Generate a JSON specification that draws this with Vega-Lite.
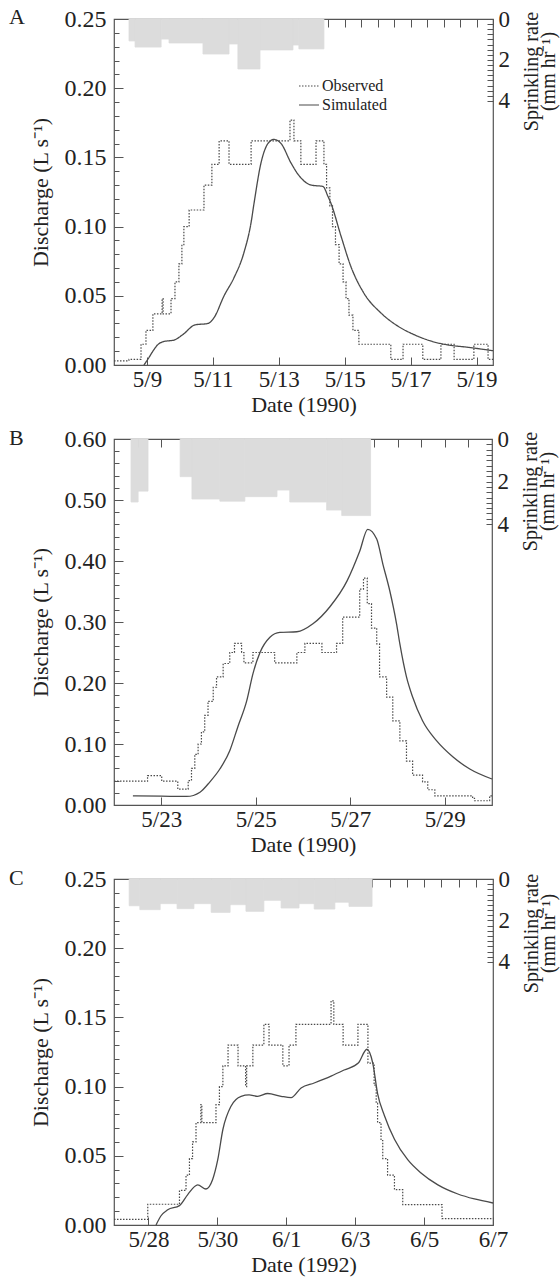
{
  "$schema": "https://vega.github.io/schema/vega-lite/v6.json",
  "padding": {"left": 8, "top": 5, "right": 8, "bottom": 2},
  "background": "white",
  "bounds": "flush",
  "spacing": 74,
  "resolve": {"scale": {"strokeDash": "independent"}, "legend": {"strokeDash": "independent"}},
  "config": {
    "font": "Liberation Serif",
    "view": {"stroke": "#555", "strokeWidth": 1.2},
    "axis": {"labelFont": "Liberation Serif", "titleFont": "Liberation Serif", "labelFontSize": 23, "titleFontSize": 22, "titleFontWeight": "normal", "labelColor": "#222", "titleColor": "#222", "tickColor": "#555", "domain": false, "grid": false, "labelFlush": false, "labelOverlap": false},
    "title": {"font": "Liberation Serif", "fontSize": 22, "fontWeight": "normal", "color": "#222"}
  },
  "vconcat": [
    {
      "width": 379, "height": 346,
      "title": {"text": "A", "anchor": "start", "frame": "group", "dx": -105, "dy": 26},
      "layer": [
        {
          "data": {"values": [
            {"start": 8.455, "end": 8.64, "rate": 1.07},
            {"start": 8.64, "end": 9.43, "rate": 1.37},
            {"start": 9.43, "end": 9.67, "rate": 0.98},
            {"start": 9.67, "end": 10.70, "rate": 1.17},
            {"start": 10.70, "end": 11.49, "rate": 1.71},
            {"start": 11.49, "end": 11.76, "rate": 1.22},
            {"start": 11.76, "end": 12.43, "rate": 2.44},
            {"start": 12.43, "end": 13.43, "rate": 1.51},
            {"start": 13.43, "end": 13.61, "rate": 1.27},
            {"start": 13.61, "end": 14.37, "rate": 1.46}
          ]},
          "mark": {"type": "rect", "fill": "#dcdcdc", "stroke": "#dcdcdc", "strokeWidth": 0.8},
          "encoding": {
            "x": {"field": "start", "type": "quantitative", "scale": {"domain": [8, 19.5], "nice": false, "zero": false},
              "axis": {"title": "Date (1990)", "values": [9, 11, 13, 15, 17, 19], "labelExpr": "'5/' + datum.value", "labelOverlap": false, "tickSize": -8, "labelPadding": 11, "titlePadding": 3}},
            "x2": {"field": "end"},
            "y": {"field": "rate", "type": "quantitative", "scale": {"domain": [0, 16.9], "reverse": true, "nice": false},
              "axis": {"orient": "right", "values": [0,0.25,0.5,0.75,1,1.25,1.5,1.75,2,2.25,2.5,2.75,3,3.25,3.5,3.75,4], "labelExpr": "datum.value % 2 == 0 ? datum.value : ''", "tickSize": -6, "labelPadding": 11, "title": ["Sprinkling rate", "(mm hr⁻¹)"], "titleFontSize": 20, "titleAngle": 270, "titleX": 38, "titleY": 52, "titleAlign": "center", "titleBaseline": "middle", "titleLineHeight": 17}},
            "y2": {"datum": 0}
          }
        },
        {
          "layer": [
            {
              "data": {"values": [
                {"day": 8.0, "q": 0.003}, {"day": 8.455, "q": 0.004}, {"day": 8.82, "q": 0.015}, {"day": 8.97, "q": 0.025},
                {"day": 9.18, "q": 0.037}, {"day": 9.46, "q": 0.048}, {"day": 9.49, "q": 0.037}, {"day": 9.73, "q": 0.048},
                {"day": 9.85, "q": 0.06}, {"day": 9.97, "q": 0.073}, {"day": 10.06, "q": 0.087}, {"day": 10.12, "q": 0.10},
                {"day": 10.28, "q": 0.112}, {"day": 10.73, "q": 0.13}, {"day": 10.97, "q": 0.145}, {"day": 11.19, "q": 0.162},
                {"day": 11.49, "q": 0.145}, {"day": 12.16, "q": 0.162}, {"day": 13.34, "q": 0.177}, {"day": 13.46, "q": 0.162},
                {"day": 13.67, "q": 0.145}, {"day": 14.13, "q": 0.162}, {"day": 14.37, "q": 0.145}, {"day": 14.45, "q": 0.128},
                {"day": 14.55, "q": 0.115}, {"day": 14.63, "q": 0.10}, {"day": 14.72, "q": 0.087}, {"day": 14.83, "q": 0.073},
                {"day": 14.95, "q": 0.06}, {"day": 15.04, "q": 0.048}, {"day": 15.13, "q": 0.036}, {"day": 15.25, "q": 0.025},
                {"day": 15.43, "q": 0.015}, {"day": 16.40, "q": 0.004}, {"day": 16.77, "q": 0.015}, {"day": 17.37, "q": 0.004},
                {"day": 17.92, "q": 0.015}, {"day": 18.32, "q": 0.004}, {"day": 18.92, "q": 0.015}, {"day": 19.35, "q": 0.004},
                {"day": 19.5, "q": 0.004}
              ]},
              "mark": {"type": "line", "interpolate": "step-after", "color": "#4a4a4a", "strokeWidth": 1.2},
              "encoding": {
                "x": {"field": "day", "type": "quantitative",
                  "axis": {"values": [8.5,9,9.5,10,10.5,11,11.5,12,12.5,13,13.5,14,14.5,15,15.5,16,16.5,17,17.5,18,18.5,19,19.5], "labels": false, "title": null, "tickSize": -8}},
                "y": {"field": "q", "type": "quantitative", "scale": {"domain": [0, 0.25], "nice": false},
                  "axis": {"orient": "left", "title": "Discharge (L s⁻¹)", "values": [0, 0.05, 0.1, 0.15, 0.2, 0.25], "format": ".2f", "labelFontSize": 24, "labelOverlap": false, "tickSize": -9, "labelPadding": 17, "titlePadding": 12}},
                "strokeDash": {"datum": "Observed", "type": "nominal", "scale": {"domain": ["Observed", "Simulated"], "range": [[1.5, 1.5], [1, 0]]},
                  "legend": {"orient": "none", "legendX": 184, "legendY": 56, "title": null, "symbolType": "stroke", "symbolSize": 400, "symbolStrokeColor": "#444", "symbolStrokeWidth": 1.2, "labelFont": "Liberation Serif", "labelFontSize": 16, "labelColor": "#222", "rowPadding": -10, "labelOffset": 2}}
              }
            },
            {
              "data": {"values": [
                {"day": 8.91, "q": 0.0}, {"day": 9.05, "q": 0.005}, {"day": 9.18, "q": 0.010}, {"day": 9.33, "q": 0.0147},
                {"day": 9.52, "q": 0.017}, {"day": 9.82, "q": 0.018}, {"day": 10.09, "q": 0.022}, {"day": 10.46, "q": 0.029},
                {"day": 10.85, "q": 0.030}, {"day": 11.03, "q": 0.034}, {"day": 11.34, "q": 0.050}, {"day": 11.64, "q": 0.063},
                {"day": 11.94, "q": 0.081}, {"day": 12.16, "q": 0.103}, {"day": 12.25, "q": 0.117}, {"day": 12.46, "q": 0.146},
                {"day": 12.67, "q": 0.16}, {"day": 12.85, "q": 0.163}, {"day": 13.07, "q": 0.16}, {"day": 13.37, "q": 0.146},
                {"day": 13.61, "q": 0.137}, {"day": 13.98, "q": 0.130}, {"day": 14.34, "q": 0.129}, {"day": 14.49, "q": 0.122},
                {"day": 14.58, "q": 0.117}, {"day": 14.89, "q": 0.093}, {"day": 15.19, "q": 0.071}, {"day": 15.58, "q": 0.052},
                {"day": 16.10, "q": 0.0376}, {"day": 16.62, "q": 0.028}, {"day": 17.10, "q": 0.022}, {"day": 17.62, "q": 0.0173},
                {"day": 18.13, "q": 0.0145}, {"day": 18.74, "q": 0.0128}, {"day": 19.5, "q": 0.0103}
              ]},
              "mark": {"type": "line", "interpolate": "monotone", "color": "#4a4a4a", "strokeWidth": 1.3},
              "encoding": {
                "x": {"field": "day", "type": "quantitative", "axis": null},
                "y": {"field": "q", "type": "quantitative",
                  "axis": {"orient": "left", "values": [0.01,0.02,0.03,0.04,0.06,0.07,0.08,0.09,0.11,0.12,0.13,0.14,0.16,0.17,0.18,0.19,0.21,0.22,0.23,0.24], "labels": false, "title": null, "tickSize": -5}},
                "strokeDash": {"datum": "Simulated", "type": "nominal"}
              }
            }
          ],
          "resolve": {"axis": {"x": "independent", "y": "independent"}}
        }
      ],
      "resolve": {"scale": {"y": "independent"}, "axis": {"y": "independent", "x": "independent"}}
    },
    {
      "width": 378, "height": 366,
      "title": {"text": "B", "anchor": "start", "frame": "group", "dx": -105, "dy": 27},
      "layer": [
        {
          "data": {"values": [
            {"start": 22.36, "end": 22.51, "rate": 2.96},
            {"start": 22.51, "end": 22.72, "rate": 2.45},
            {"start": 23.40, "end": 23.65, "rate": 1.77},
            {"start": 23.65, "end": 24.24, "rate": 2.82},
            {"start": 24.24, "end": 24.77, "rate": 2.92},
            {"start": 24.77, "end": 25.45, "rate": 2.71},
            {"start": 25.45, "end": 25.72, "rate": 2.4},
            {"start": 25.72, "end": 26.50, "rate": 2.96},
            {"start": 26.50, "end": 26.82, "rate": 3.34},
            {"start": 26.82, "end": 27.43, "rate": 3.6}
          ]},
          "mark": {"type": "rect", "fill": "#dcdcdc", "stroke": "#dcdcdc", "strokeWidth": 0.8},
          "encoding": {
            "x": {"field": "start", "type": "quantitative", "scale": {"domain": [22, 30], "nice": false, "zero": false},
              "axis": {"title": "Date (1990)", "values": [23, 25, 27, 29], "labelExpr": "'5/' + datum.value", "labelOverlap": false, "tickSize": -8, "labelPadding": 11, "titlePadding": 3}},
            "x2": {"field": "end"},
            "y": {"field": "rate", "type": "quantitative", "scale": {"domain": [0, 17.2], "reverse": true, "nice": false},
              "axis": {"orient": "right", "values": [0,0.25,0.5,0.75,1,1.25,1.5,1.75,2,2.25,2.5,2.75,3,3.25,3.5,3.75,4], "labelExpr": "datum.value % 2 == 0 ? datum.value : ''", "tickSize": -6, "labelPadding": 11, "title": ["Sprinkling rate", "(mm hr⁻¹)"], "titleFontSize": 20, "titleAngle": 270, "titleX": 38, "titleY": 52, "titleAlign": "center", "titleBaseline": "middle", "titleLineHeight": 17}},
            "y2": {"datum": 0}
          }
        },
        {
          "layer": [
            {
              "data": {"values": [
                {"day": 22.0, "q": 0.039}, {"day": 22.71, "q": 0.048}, {"day": 23.01, "q": 0.039}, {"day": 23.35, "q": 0.026},
                {"day": 23.57, "q": 0.04}, {"day": 23.64, "q": 0.06}, {"day": 23.71, "q": 0.083}, {"day": 23.78, "q": 0.10},
                {"day": 23.85, "q": 0.12}, {"day": 23.92, "q": 0.147}, {"day": 23.99, "q": 0.17}, {"day": 24.10, "q": 0.193},
                {"day": 24.17, "q": 0.21}, {"day": 24.31, "q": 0.232}, {"day": 24.45, "q": 0.25}, {"day": 24.55, "q": 0.265},
                {"day": 24.70, "q": 0.25}, {"day": 24.75, "q": 0.233}, {"day": 24.94, "q": 0.25}, {"day": 25.40, "q": 0.233},
                {"day": 25.87, "q": 0.25}, {"day": 26.04, "q": 0.265}, {"day": 26.40, "q": 0.25}, {"day": 26.71, "q": 0.265},
                {"day": 26.84, "q": 0.308}, {"day": 27.20, "q": 0.354}, {"day": 27.28, "q": 0.372}, {"day": 27.36, "q": 0.33},
                {"day": 27.45, "q": 0.29}, {"day": 27.56, "q": 0.264}, {"day": 27.62, "q": 0.21}, {"day": 27.77, "q": 0.177},
                {"day": 27.90, "q": 0.138}, {"day": 28.05, "q": 0.105}, {"day": 28.19, "q": 0.072}, {"day": 28.32, "q": 0.049},
                {"day": 28.53, "q": 0.038}, {"day": 28.64, "q": 0.025}, {"day": 28.79, "q": 0.015}, {"day": 29.59, "q": 0.011},
                {"day": 29.63, "q": 0.007}, {"day": 29.95, "q": 0.015}, {"day": 30.0, "q": 0.015}
              ]},
              "mark": {"type": "line", "interpolate": "step-after", "color": "#4a4a4a", "strokeWidth": 1.2, "strokeDash": [1.5, 1.5]},
              "encoding": {
                "x": {"field": "day", "type": "quantitative",
                  "axis": {"values": [22.5,23,23.5,24,24.5,25,25.5,26,26.5,27,27.5,28,28.5,29,29.5], "labels": false, "title": null, "tickSize": -8}},
                "y": {"field": "q", "type": "quantitative", "scale": {"domain": [0, 0.6], "nice": false},
                  "axis": {"orient": "left", "title": "Discharge (L s⁻¹)", "values": [0, 0.1, 0.2, 0.3, 0.4, 0.5, 0.6], "format": ".2f", "labelFontSize": 24, "labelOverlap": false, "tickSize": -9, "labelPadding": 17, "titlePadding": 12}}
              }
            },
            {
              "data": {"values": [
                {"day": 22.40, "q": 0.015}, {"day": 23.0, "q": 0.0145}, {"day": 23.54, "q": 0.014}, {"day": 23.82, "q": 0.021},
                {"day": 24.03, "q": 0.038}, {"day": 24.24, "q": 0.059}, {"day": 24.45, "q": 0.089}, {"day": 24.62, "q": 0.128},
                {"day": 24.81, "q": 0.171}, {"day": 24.94, "q": 0.215}, {"day": 25.09, "q": 0.25}, {"day": 25.30, "q": 0.275},
                {"day": 25.51, "q": 0.283}, {"day": 25.87, "q": 0.284}, {"day": 26.21, "q": 0.297}, {"day": 26.57, "q": 0.325},
                {"day": 26.93, "q": 0.367}, {"day": 27.20, "q": 0.416}, {"day": 27.37, "q": 0.452}, {"day": 27.56, "q": 0.436},
                {"day": 27.69, "q": 0.395}, {"day": 27.84, "q": 0.35}, {"day": 27.98, "q": 0.297}, {"day": 28.05, "q": 0.264},
                {"day": 28.19, "q": 0.21}, {"day": 28.32, "q": 0.177}, {"day": 28.53, "q": 0.138}, {"day": 28.83, "q": 0.105},
                {"day": 29.17, "q": 0.079}, {"day": 29.53, "q": 0.059}, {"day": 30.0, "q": 0.0426}
              ]},
              "mark": {"type": "line", "interpolate": "monotone", "color": "#4a4a4a", "strokeWidth": 1.3},
              "encoding": {
                "x": {"field": "day", "type": "quantitative", "axis": null},
                "y": {"field": "q", "type": "quantitative",
                  "axis": {"orient": "left", "values": [0.02,0.04,0.06,0.08,0.12,0.14,0.16,0.18,0.22,0.24,0.26,0.28,0.32,0.34,0.36,0.38,0.42,0.44,0.46,0.48,0.52,0.54,0.56,0.58], "labels": false, "title": null, "tickSize": -5}}
              }
            }
          ],
          "resolve": {"axis": {"x": "independent", "y": "independent"}}
        }
      ],
      "resolve": {"scale": {"y": "independent"}, "axis": {"y": "independent", "x": "independent"}}
    },
    {
      "width": 379, "height": 346,
      "title": {"text": "C", "anchor": "start", "frame": "group", "dx": -105, "dy": 27},
      "layer": [
        {
          "data": {"values": [
            {"start": 27.44, "end": 27.75, "rate": 1.29},
            {"start": 27.75, "end": 28.34, "rate": 1.48},
            {"start": 28.34, "end": 28.83, "rate": 1.19},
            {"start": 28.83, "end": 29.32, "rate": 1.43},
            {"start": 29.32, "end": 29.82, "rate": 1.19},
            {"start": 29.82, "end": 30.37, "rate": 1.61},
            {"start": 30.37, "end": 30.83, "rate": 1.24},
            {"start": 30.83, "end": 31.35, "rate": 1.56},
            {"start": 31.35, "end": 31.85, "rate": 1.03},
            {"start": 31.85, "end": 32.37, "rate": 1.40},
            {"start": 32.37, "end": 32.81, "rate": 1.19},
            {"start": 32.81, "end": 33.41, "rate": 1.45},
            {"start": 33.41, "end": 33.82, "rate": 1.12},
            {"start": 33.82, "end": 34.49, "rate": 1.32}
          ]},
          "mark": {"type": "rect", "fill": "#dcdcdc", "stroke": "#dcdcdc", "strokeWidth": 0.8},
          "encoding": {
            "x": {"field": "start", "type": "quantitative", "scale": {"domain": [27, 38], "nice": false, "zero": false},
              "axis": {"title": "Date (1992)", "values": [28, 30, 32, 34, 36, 38], "labelExpr": "datum.value > 31 ? '6/' + (datum.value - 31) : '5/' + datum.value", "labelOverlap": false, "tickSize": -8, "labelPadding": 11, "titlePadding": 3}},
            "x2": {"field": "end"},
            "y": {"field": "rate", "type": "quantitative", "scale": {"domain": [0, 16.7], "reverse": true, "nice": false},
              "axis": {"orient": "right", "values": [0,0.25,0.5,0.75,1,1.25,1.5,1.75,2,2.25,2.5,2.75,3,3.25,3.5,3.75,4], "labelExpr": "datum.value % 2 == 0 ? datum.value : ''", "tickSize": -6, "labelPadding": 11, "title": ["Sprinkling rate", "(mm hr⁻¹)"], "titleFontSize": 20, "titleAngle": 270, "titleX": 38, "titleY": 54, "titleAlign": "center", "titleBaseline": "middle", "titleLineHeight": 17}},
            "y2": {"datum": 0}
          }
        },
        {
          "layer": [
            {
              "data": {"values": [
                {"day": 27.0, "q": 0.004}, {"day": 27.98, "q": 0.015}, {"day": 28.90, "q": 0.025}, {"day": 29.09, "q": 0.036},
                {"day": 29.19, "q": 0.048}, {"day": 29.28, "q": 0.06}, {"day": 29.38, "q": 0.074}, {"day": 29.52, "q": 0.087},
                {"day": 29.55, "q": 0.074}, {"day": 29.96, "q": 0.087}, {"day": 30.06, "q": 0.10}, {"day": 30.16, "q": 0.115},
                {"day": 30.31, "q": 0.13}, {"day": 30.60, "q": 0.115}, {"day": 30.82, "q": 0.10}, {"day": 30.85, "q": 0.115},
                {"day": 31.03, "q": 0.13}, {"day": 31.35, "q": 0.145}, {"day": 31.50, "q": 0.13}, {"day": 31.90, "q": 0.115},
                {"day": 32.08, "q": 0.13}, {"day": 32.28, "q": 0.145}, {"day": 33.30, "q": 0.162}, {"day": 33.38, "q": 0.145},
                {"day": 33.65, "q": 0.13}, {"day": 34.08, "q": 0.145}, {"day": 34.37, "q": 0.117}, {"day": 34.55, "q": 0.101},
                {"day": 34.61, "q": 0.088}, {"day": 34.65, "q": 0.074}, {"day": 34.75, "q": 0.061}, {"day": 34.80, "q": 0.048},
                {"day": 34.94, "q": 0.036}, {"day": 35.14, "q": 0.0255}, {"day": 35.38, "q": 0.0147}, {"day": 36.52, "q": 0.0046},
                {"day": 38.0, "q": 0.0046}
              ]},
              "mark": {"type": "line", "interpolate": "step-after", "color": "#4a4a4a", "strokeWidth": 1.2, "strokeDash": [1.5, 1.5]},
              "encoding": {
                "x": {"field": "day", "type": "quantitative",
                  "axis": {"values": [27.5,28,28.5,29,29.5,30,30.5,31,31.5,32,32.5,33,33.5,34,34.5,35,35.5,36,36.5,37,37.5], "labels": false, "title": null, "tickSize": -8}},
                "y": {"field": "q", "type": "quantitative", "scale": {"domain": [0, 0.25], "nice": false},
                  "axis": {"orient": "left", "title": "Discharge (L s⁻¹)", "values": [0, 0.05, 0.1, 0.15, 0.2, 0.25], "format": ".2f", "labelFontSize": 24, "labelOverlap": false, "tickSize": -9, "labelPadding": 17, "titlePadding": 12}}
              }
            },
            {
              "data": {"values": [
                {"day": 28.22, "q": 0.0}, {"day": 28.36, "q": 0.0065}, {"day": 28.56, "q": 0.011}, {"day": 28.90, "q": 0.014},
                {"day": 29.14, "q": 0.022}, {"day": 29.43, "q": 0.029}, {"day": 29.67, "q": 0.026}, {"day": 29.86, "q": 0.0327},
                {"day": 30.01, "q": 0.047}, {"day": 30.16, "q": 0.069}, {"day": 30.40, "q": 0.086}, {"day": 30.69, "q": 0.093},
                {"day": 30.92, "q": 0.094}, {"day": 31.17, "q": 0.093}, {"day": 31.46, "q": 0.095}, {"day": 31.85, "q": 0.093},
                {"day": 32.14, "q": 0.092}, {"day": 32.43, "q": 0.099}, {"day": 32.81, "q": 0.1026}, {"day": 33.30, "q": 0.1076},
                {"day": 33.68, "q": 0.112}, {"day": 34.09, "q": 0.117}, {"day": 34.34, "q": 0.127}, {"day": 34.51, "q": 0.117},
                {"day": 34.65, "q": 0.095}, {"day": 34.85, "q": 0.079}, {"day": 35.14, "q": 0.062}, {"day": 35.53, "q": 0.047},
                {"day": 35.91, "q": 0.0376}, {"day": 36.40, "q": 0.029}, {"day": 36.98, "q": 0.0224}, {"day": 37.46, "q": 0.0188},
                {"day": 38.0, "q": 0.0159}
              ]},
              "mark": {"type": "line", "interpolate": "monotone", "color": "#4a4a4a", "strokeWidth": 1.3},
              "encoding": {
                "x": {"field": "day", "type": "quantitative", "axis": null},
                "y": {"field": "q", "type": "quantitative",
                  "axis": {"orient": "left", "values": [0.01,0.02,0.03,0.04,0.06,0.07,0.08,0.09,0.11,0.12,0.13,0.14,0.16,0.17,0.18,0.19,0.21,0.22,0.23,0.24], "labels": false, "title": null, "tickSize": -5}}
              }
            }
          ],
          "resolve": {"axis": {"x": "independent", "y": "independent"}}
        }
      ],
      "resolve": {"scale": {"y": "independent"}, "axis": {"y": "independent", "x": "independent"}}
    }
  ]
}
